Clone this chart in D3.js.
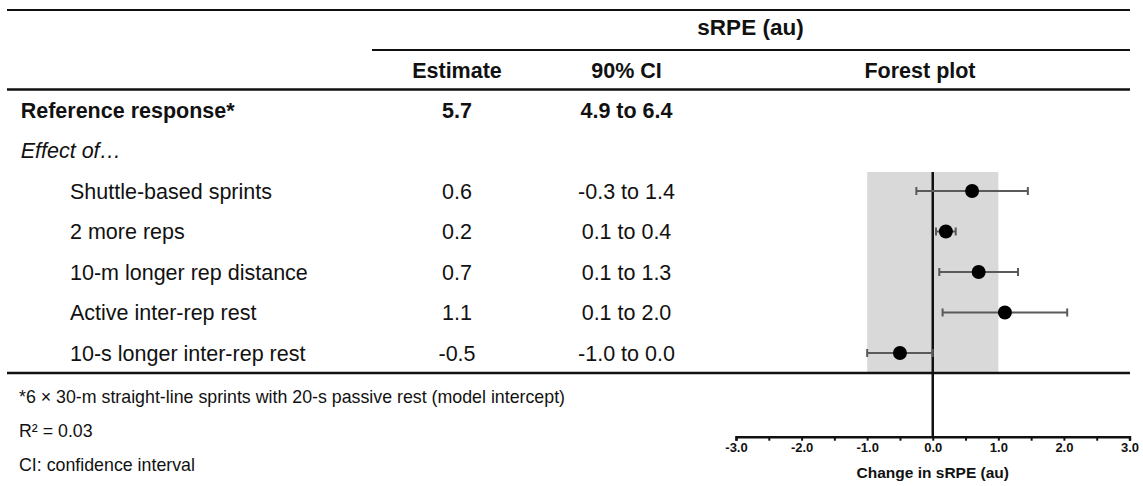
<!DOCTYPE html>
<html>
<head>
<meta charset="utf-8">
<script src="https://cdn.jsdelivr.net/npm/d3@7"></script>
<style>
  html, body { margin: 0; padding: 0; background: #fff; }
  svg { display: block; font-family: "Liberation Sans", Arial, sans-serif; }
  text { fill: #111; }
</style>
</head>
<body>
<svg id="canvas" width="1143" height="486"></svg>
<script>
// table rows
var rowLabels = ['Shuttle-based sprints', '2 more reps', '10-m longer rep distance', 'Active inter-rep rest', '10-s longer inter-rep rest'];
var estimates = [0.6, 0.2, 0.7, 1.1, -0.5];
var ciLow = [-0.3, 0.1, 0.1, 0.1, -1.0];
var ciHigh = [1.4, 0.4, 1.3, 2.0, 0.0];

// whisker ends as drawn in the forest plot
var plotLow = [-0.25, 0.05, 0.1, 0.15, -1.0];
var plotHigh = [1.45, 0.35, 1.3, 2.05, 0.0];

var refEstimate = 5.7, refLow = 4.9, refHigh = 6.4;
var trivialBand = [-1, 1];
var axisTicks = [-3, -2.5, -2, -1.5, -1, -0.5, 0, 0.5, 1, 1.5, 2, 2.5, 3];
var footnotes = ['*6 \u00d7 30-m straight-line sprints with 20-s passive rest (model intercept)', 'R\u00b2 = 0.03', 'CI: confidence interval'];

var svg = d3.select('svg#canvas');
var fmt = function(v) { return v.toFixed(1); };

var x = d3.scaleLinear().domain([-3, 3]).range([736, 1129.5]);
// row index -> vertical centre (0 = reference, 1 = "Effect of", 2.. = effects)
var y = d3.scaleLinear().domain([0, 1]).range([110, 150.5]);

var colLabel = 20.7, colIndent = 70, colEst = 457, colCI = 626.5;

function rule(x1, x2, yy, w) {
  svg.append('line').attr('x1', x1).attr('x2', x2).attr('y1', yy).attr('y2', yy)
    .attr('stroke', '#111').attr('stroke-width', w);
}

// forest plot background first so rules sit on top
svg.append('rect')
  .attr('x', x(trivialBand[0])).attr('width', x(trivialBand[1]) - x(trivialBand[0]))
  .attr('y', 172).attr('height', 373 - 172)
  .attr('fill', '#d9d9d9');

svg.append('line')
  .attr('x1', x(0)).attr('x2', x(0)).attr('y1', 172).attr('y2', 437)
  .attr('stroke', '#111').attr('stroke-width', 2.5);

// headers
svg.append('text').attr('x', 750.5).attr('y', 35).attr('text-anchor', 'middle')
  .style('font-size', '22.5px').style('font-weight', 'bold').text('sRPE (au)');
[['Estimate', colEst], ['90% CI', colCI], ['Forest plot', 920]].forEach(function(h) {
  svg.append('text').attr('x', h[1]).attr('y', 77.5).attr('text-anchor', 'middle')
    .style('font-size', '21.5px').style('font-weight', 'bold').text(h[0]);
});

rule(7, 1130, 10, 2);
rule(372, 1130, 50, 2);
rule(7, 1130, 89.5, 2.5);

// reference row
var ref = svg.append('g').style('font-size', '21.5px').style('font-weight', 'bold');
ref.append('text').attr('x', colLabel).attr('y', y(0)).attr('dy', '0.35em').text('Reference response*');
ref.append('text').attr('x', colEst).attr('y', y(0)).attr('dy', '0.35em').attr('text-anchor', 'middle').text(fmt(refEstimate));
ref.append('text').attr('x', colCI).attr('y', y(0)).attr('dy', '0.35em').attr('text-anchor', 'middle').text(fmt(refLow) + ' to ' + fmt(refHigh));

svg.append('text').attr('x', colLabel).attr('y', y(1)).attr('dy', '0.35em')
  .style('font-size', '21.5px').style('font-style', 'italic').text('Effect of\u2026');

// effect rows
var rows = svg.append('g').selectAll('g').data(rowLabels).join('g')
  .style('font-size', '21.5px');
rows.append('text').attr('x', colIndent).attr('y', function(d, i) { return y(i + 2); }).attr('dy', '0.35em')
  .text(function(d) { return d; });
rows.append('text').attr('x', colEst).attr('y', function(d, i) { return y(i + 2); }).attr('dy', '0.35em')
  .attr('text-anchor', 'middle').text(function(d, i) { return fmt(estimates[i]); });
rows.append('text').attr('x', colCI).attr('y', function(d, i) { return y(i + 2); }).attr('dy', '0.35em')
  .attr('text-anchor', 'middle').text(function(d, i) { return fmt(ciLow[i]) + ' to ' + fmt(ciHigh[i]); });

// whiskers and points
var marks = svg.append('g').selectAll('g').data(estimates).join('g')
  .attr('transform', function(d, i) { return 'translate(0,' + y(i + 2) + ')'; });
marks.append('line')
  .attr('x1', function(d, i) { return x(plotLow[i]); }).attr('x2', function(d, i) { return x(plotHigh[i]); })
  .attr('stroke', '#5a5a5a').attr('stroke-width', 2);
marks.append('line')
  .attr('x1', function(d, i) { return x(plotLow[i]); }).attr('x2', function(d, i) { return x(plotLow[i]); })
  .attr('y1', -4).attr('y2', 4).attr('stroke', '#5a5a5a').attr('stroke-width', 2);
marks.append('line')
  .attr('x1', function(d, i) { return x(plotHigh[i]); }).attr('x2', function(d, i) { return x(plotHigh[i]); })
  .attr('y1', -4).attr('y2', 4).attr('stroke', '#5a5a5a').attr('stroke-width', 2);
marks.append('circle')
  .attr('cx', function(d) { return x(d); }).attr('r', 7).attr('fill', '#000');

rule(7, 1130, 373, 2.5);

// axis
var axis = svg.append('g').attr('transform', 'translate(0,436.7)')
  .call(d3.axisBottom(x).tickValues(axisTicks).tickSize(4).tickPadding(2)
    .tickFormat(function(d) { return d % 1 === 0 ? fmt(d) : ''; }));
axis.select('.domain').attr('stroke', '#111').attr('stroke-width', 2.5);
axis.selectAll('.tick line').attr('stroke', '#111').attr('stroke-width', 2);
axis.selectAll('.tick text').attr('fill', '#111')
  .style('font-family', '"Liberation Sans", Arial, sans-serif')
  .style('font-size', '13px').style('font-weight', 'bold');

svg.append('text').attr('x', x(0)).attr('y', 478).attr('text-anchor', 'middle')
  .style('font-size', '15.5px').style('font-weight', 'bold').text('Change in sRPE (au)');

// footnotes
svg.append('g').selectAll('text').data(footnotes).join('text')
  .attr('x', 19).attr('y', function(d, i) { return [403, 437, 471][i]; })
  .style('font-size', '17.8px').text(function(d) { return d; });
</script>
</body>
</html>
